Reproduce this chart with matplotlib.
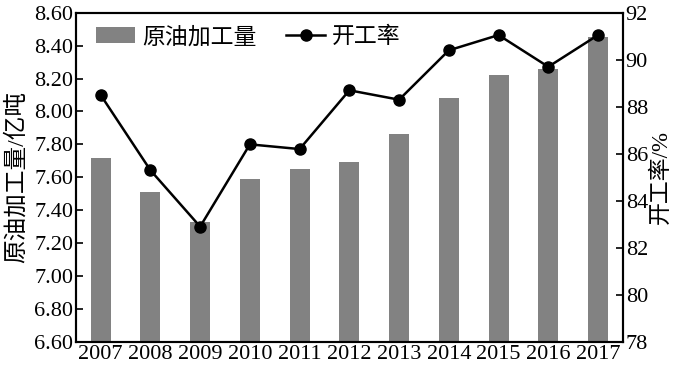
import matplotlib
matplotlib.use("Agg")
import matplotlib.pyplot as plt
import numpy as np

plt.rcParams['font.family'] = ['Liberation Serif', 'Noto Sans CJK SC']
plt.rcParams['axes.unicode_minus'] = False

years = ['2007', '2008', '2009', '2010', '2011', '2012', '2013', '2014', '2015', '2016', '2017']
throughput = [7.72, 7.51, 7.33, 7.59, 7.65, 7.69, 7.86, 8.08, 8.22, 8.26, 8.45]
utilization = [88.5, 85.3, 82.9, 86.4, 86.2, 88.7, 88.3, 90.4, 91.05, 89.7, 91.05]

fig, ax = plt.subplots(figsize=(6.83, 3.74), dpi=100)
fig.subplots_adjust(left=0.111, right=0.912, top=0.966, bottom=0.086)

x = np.arange(len(years))
bars = ax.bar(x, throughput, width=0.4, color='#828282', label='原油加工量', zorder=1)
ax.set_ylim(6.6, 8.6)
ax.set_yticks(np.arange(6.6, 8.61, 0.2))
ax.set_yticklabels(['%.2f' % v for v in np.arange(6.6, 8.61, 0.2)])
ax.set_xlim(-0.5, 10.5)
ax.set_xticks(x)
ax.set_xticklabels(years)
ax.set_ylabel('原油加工量/亿吨', fontsize=17)
ax.yaxis.set_label_coords(-0.088, 0.5)
ax.tick_params(axis='y', direction='in', length=5, width=1.2, labelsize=16, pad=2)
ax.tick_params(axis='x', length=0, labelsize=16, pad=2)

ax2 = ax.twinx()
line, = ax2.plot(x, utilization, color='black', lw=1.8, marker='o', ms=8, label='开工率', zorder=3)
ax2.set_ylim(78, 92)
ax2.set_yticks(np.arange(78, 93, 2))
ax2.set_ylabel('开工率/%', fontsize=16.5, rotation=90, labelpad=2)
ax2.tick_params(axis='y', direction='in', length=5, width=1.2, labelsize=16, pad=2)

for a in (ax, ax2):
    for s in a.spines.values():
        s.set_linewidth(1.5)

ax.legend([bars, line], ['原油加工量', '开工率'], loc='upper left', ncol=2, frameon=False,
          fontsize=16.5, handlelength=1.7, columnspacing=1.3, handletextpad=0.3,
          bbox_to_anchor=(0.0, 1.02))

fig.savefig('out.png', dpi=100)
